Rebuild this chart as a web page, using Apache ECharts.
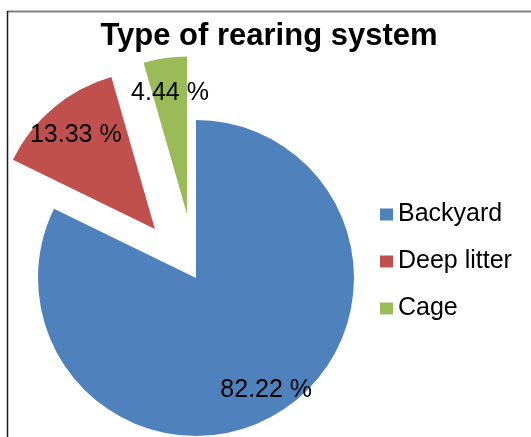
<!DOCTYPE html>
<html>
<head>
<meta charset="utf-8">
<script src="https://cdn.jsdelivr.net/npm/echarts@6/dist/echarts.min.js"></script>
<style>
  html, body { margin: 0; padding: 0; background: #fff; }
  #chart { width: 531px; height: 437px; }
</style>
</head>
<body>
<div id="chart"></div>
<script>
// Rearing system shares (percent)
const categories = ['Backyard', 'Deep litter', 'Cage'];
const shares = [82.22, 13.33, 4.44];
const exploded = [false, true, true];
const sliceColors = ['#4F81BD', '#C0504D', '#9BBB59'];

const RADIUS = 158;
const LABEL_POS = 0.82;     // label distance along the radius, as a fraction
const LABEL_POS_OUT = 0.76; // same, for the pulled-out slices

// ECharts puts 'inside' labels at half the radius; push them further out
// along each slice's bisector (for both the normal and the selected state).
const total = shares.reduce((a, b) => a + b, 0);
let acc = 0;
const data = categories.map((name, i) => {
  const mid = (acc + shares[i] / 2) / total * 2 * Math.PI; // clockwise from top
  acc += shares[i];
  const extra = ((exploded[i] ? LABEL_POS_OUT : LABEL_POS) - 0.5) * RADIUS;
  const offset = [Math.sin(mid) * extra, -Math.cos(mid) * extra];
  return {
    name,
    value: shares[i],
    selected: exploded[i],
    itemStyle: { color: sliceColors[i] },
    label: { offset },
    select: { label: { offset } }
  };
});

const FONT = 'Liberation Sans, Arial, sans-serif';

const chart = echarts.init(document.getElementById('chart'), null, { renderer: 'canvas' });
chart.setOption({
  animation: false,
  backgroundColor: '#ffffff',
  title: {
    text: 'Type of rearing system',
    left: 264,
    top: 16,
    textAlign: 'center',
    textStyle: { fontFamily: FONT, fontSize: 31, fontWeight: 'bold', color: '#000' }
  },
  legend: {
    orient: 'vertical',
    left: 375,
    top: 197,
    itemWidth: 13,
    itemHeight: 12,
    itemGap: 22,
    icon: 'rect',
    selectedMode: false,
    textStyle: { fontFamily: FONT, fontSize: 25, color: '#000' },
    data: categories
  },
  graphic: [
    { type: 'line', shape: { x1: 7, y1: 11.5, x2: 531, y2: 11.5 }, style: { stroke: '#808080', lineWidth: 2 } },
    { type: 'line', shape: { x1: 7.5, y1: 11, x2: 7.5, y2: 437 }, style: { stroke: '#1a1a1a', lineWidth: 1.5 } }
  ],
  series: [{
    type: 'pie',
    center: [196, 278],
    radius: RADIUS,
    startAngle: 90,
    clockwise: true,
    selectedMode: 'multiple',
    selectedOffset: 64,
    avoidLabelOverlap: false,
    emphasis: { scale: false },
    itemStyle: { borderWidth: 0 },
    label: {
      show: true,
      position: 'inside',
      formatter: p => p.value.toFixed(2) + ' %',
      fontFamily: FONT,
      fontSize: 25,
      color: '#000'
    },
    labelLine: { show: false },
    data
  }]
});
</script>
</body>
</html>
